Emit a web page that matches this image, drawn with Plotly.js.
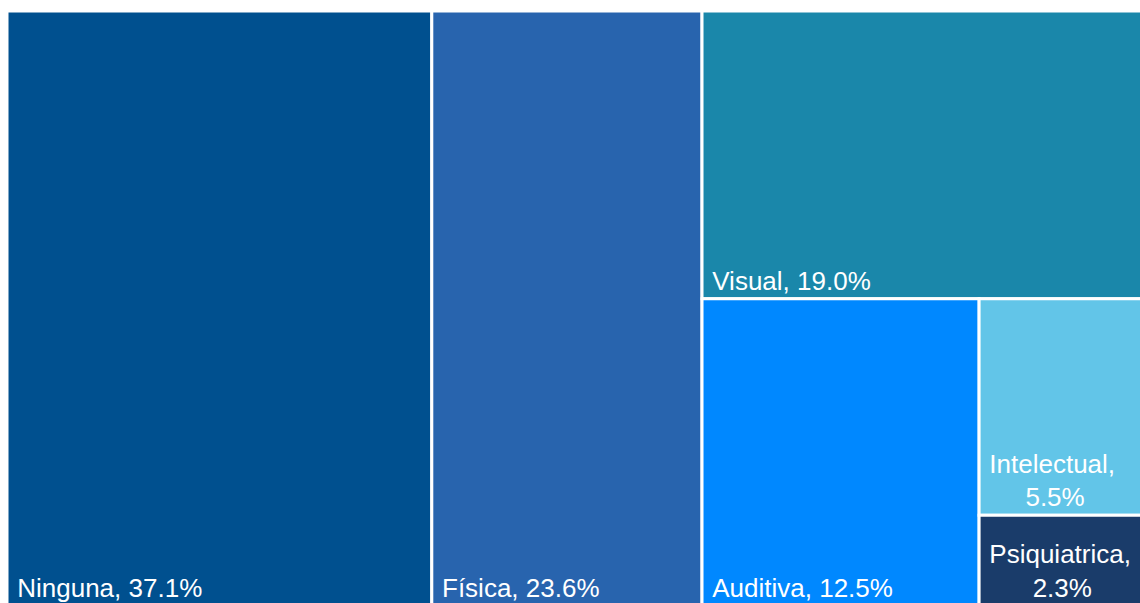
<!DOCTYPE html>
<html>
<head>
<meta charset="utf-8">
<script src="https://cdn.plot.ly/plotly-3.0.1.min.js"></script>
<style>html,body{margin:0;padding:0;background:#fff;overflow:hidden;width:1140px;height:603px;}#chart{width:1152px;height:606px;}</style>
</head>
<body>
<div id="chart"></div>
<script>
const categories = ["Ninguna", "Física", "Visual", "Auditiva", "Intelectual", "Psiquiatrica"];
const shares = [37.1, 23.6, 19.0, 12.5, 5.5, 2.3];
const parents = ["", "", "", "", "", ""];
const colors = ["#00508f", "#2864ae", "#1a87aa", "#0088ff", "#62c5e8", "#1a3c6a"];
const NB = "\u00a0";
const templates = [
  NB + "%{label}, %{value:.1f}%",
  NB + "%{label}, %{value:.1f}%",
  NB + "%{label}, %{value:.1f}%",
  NB + "%{label}, %{value:.1f}%",
  NB + "%{label},<br>" + NB.repeat(6) + "%{value:.1f}%",
  NB + "%{label},<br>" + NB.repeat(7) + "%{value:.1f}%"
];

const trace = {
  type: "treemap",
  labels: categories,
  parents: parents,
  values: shares,
  sort: true,
  texttemplate: templates,
  hovertemplate: "%{label}: %{value:.1f}%<extra></extra>",
  textposition: "bottom left",
  textfont: {family: "Liberation Sans, Arial, sans-serif", size: 26, color: "#ffffff"},
  marker: {colors: colors, line: {color: "#ffffff", width: 3}, pad: {t: 0, l: 0, r: 0, b: 0}},
  tiling: {packing: "binary", pad: 0},
  pathbar: {visible: false},
  root: {color: "#ffffff"}
};

const layout = {
  width: 1152, height: 606,
  margin: {l: 7, r: 0, t: 11, b: 0},
  paper_bgcolor: "#ffffff",
  showlegend: false
};

Plotly.newPlot("chart", [trace], layout, {displayModeBar: false, staticPlot: true});
</script>
</body>
</html>
